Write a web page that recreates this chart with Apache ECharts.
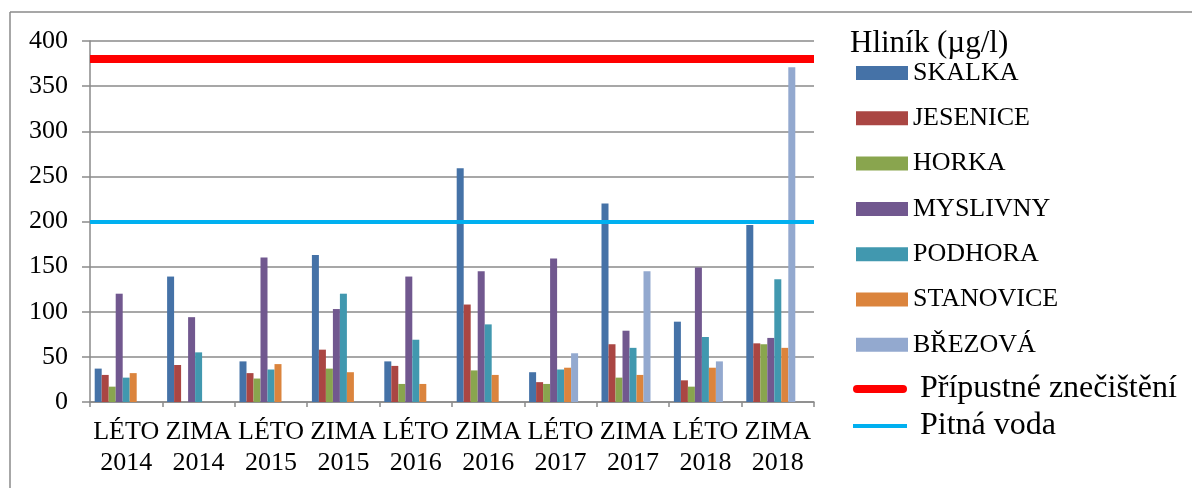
<!DOCTYPE html>
<html>
<head>
<meta charset="utf-8">
<script src="https://cdn.jsdelivr.net/npm/echarts@6/dist/echarts.min.js"></script>
<style>
html,body{margin:0;padding:0;background:#fff;}
#chart{width:1192px;height:488px;}
</style>
</head>
<body>
<div id="chart"></div>
<script>
const categories = ['LÉTO 2014','ZIMA 2014','LÉTO 2015','ZIMA 2015','LÉTO 2016','ZIMA 2016','LÉTO 2017','ZIMA 2017','LÉTO 2018','ZIMA 2018'];
const yTicks = [0,50,100,150,200,250,300,350,400];
const skalka    = [37, 139, 45, 163, 45, 259, 33, 220, 89, 196];
const jesenice  = [30, 41, 32, 58, 40, 108, 22, 64, 24, 65];
const horka     = [17, '-', 26, 37, 20, 35, 20, 27, 17, 64];
const myslivny  = [120, 94, 160, 103, 139, 145, 159, 79, 149, 71];
const podhora   = [27, 55, 36, 120, 69, 86, 36, 60, 72, 136];
const stanovice = [32, '-', 42, 33, 20, 30, 38, 30, 38, 60];
const brezova   = ['-', '-', '-', '-', '-', '-', 54, 145, 45, 371];
const limitPripustne = 380;
const limitPitna = 200;
const emptyRow = categories.map(() => '-');

const FONT = 'Liberation Serif';
const barSeries = [
  ['SKALKA', skalka, '#4572A7'],
  ['JESENICE', jesenice, '#AA4643'],
  ['HORKA', horka, '#89A54E'],
  ['MYSLIVNY', myslivny, '#71588F'],
  ['PODHORA', podhora, '#4198AF'],
  ['STANOVICE', stanovice, '#DB843D'],
  ['BŘEZOVÁ', brezova, '#93A9CF']
].map(([name, data, color]) => ({
  name, type: 'bar', data, barWidth: 7, barGap: 0,
  itemStyle: { color }
}));

const lineSeries = [
  ['Přípustné znečištění', limitPripustne, '#FF0000', 8],
  ['Pitná voda', limitPitna, '#00B0F0', 4]
].map(([name, val, color, w]) => ({
  name, type: 'bar', data: emptyRow, barWidth: 7, barGap: 0,
  itemStyle: { color },
  markLine: {
    silent: true, symbol: 'none', label: { show: false },
    lineStyle: { color, width: w, type: 'solid' },
    data: [{ yAxis: val }]
  }
}));

const chart = echarts.init(document.getElementById('chart'));
chart.setOption({
  animation: false,
  backgroundColor: '#fff',
  textStyle: { fontFamily: FONT },
  title: {
    text: 'Hliník (µg/l)', left: 845, top: 23,
    textStyle: { fontFamily: FONT, fontSize: 31, fontWeight: 'normal', color: '#000' }
  },
  graphic: [
    { type: 'line', shape: { x1: 10, y1: 12, x2: 1192, y2: 12 }, style: { stroke: '#8a8a8a', lineWidth: 1.5 } },
    { type: 'line', shape: { x1: 10, y1: 12, x2: 10, y2: 488 }, style: { stroke: '#8a8a8a', lineWidth: 1.5 } }
  ],
  legend: [
    {
      data: barSeries.map(s => s.name),
      orient: 'vertical', left: 851, top: 55,
      itemWidth: 52, itemHeight: 14, itemGap: 19.3,
      icon: 'rect',
      textStyle: { fontFamily: FONT, fontSize: 26, color: '#000', lineHeight: 26 }
    },
    {
      data: [
        { name: 'Přípustné znečištění', icon: 'path://M4,0H50A4,4 0 0 1 50,8H4A4,4 0 0 1 4,0Z' },
        { name: 'Pitná voda', icon: 'path://M0,0H54V4H0Z' }
      ],
      orient: 'vertical', left: 848, top: 368,
      itemWidth: 54, itemHeight: 14, itemGap: 5,
      textStyle: { fontFamily: FONT, fontSize: 32, color: '#000', lineHeight: 32, padding: [0, 0, 0, 8] }
    }
  ],
  grid: { left: 90, right: 378, top: 41, bottom: 86, containLabel: false },
  xAxis: {
    type: 'category', data: categories,
    axisLine: { lineStyle: { color: '#8a8a8a', width: 1.5 } },
    axisTick: { show: true, length: 5, lineStyle: { color: '#8a8a8a', width: 1.5 } },
    axisLabel: {
      fontFamily: FONT, fontSize: 26, color: '#000', lineHeight: 31, margin: 15,
      interval: 0, formatter: v => v.replace(' ', '\n')
    }
  },
  yAxis: {
    type: 'value', min: yTicks[0], max: yTicks[yTicks.length - 1], interval: 50,
    axisLine: { show: true, lineStyle: { color: '#8a8a8a', width: 1.5 } },
    axisTick: { show: true, length: 8, lineStyle: { color: '#8a8a8a', width: 1.5 } },
    splitLine: { lineStyle: { color: '#8a8a8a', width: 1.5 } },
    axisLabel: { fontFamily: FONT, fontSize: 26, color: '#000', margin: 22 }
  },
  series: barSeries.concat(lineSeries)
});
</script>
</body>
</html>
